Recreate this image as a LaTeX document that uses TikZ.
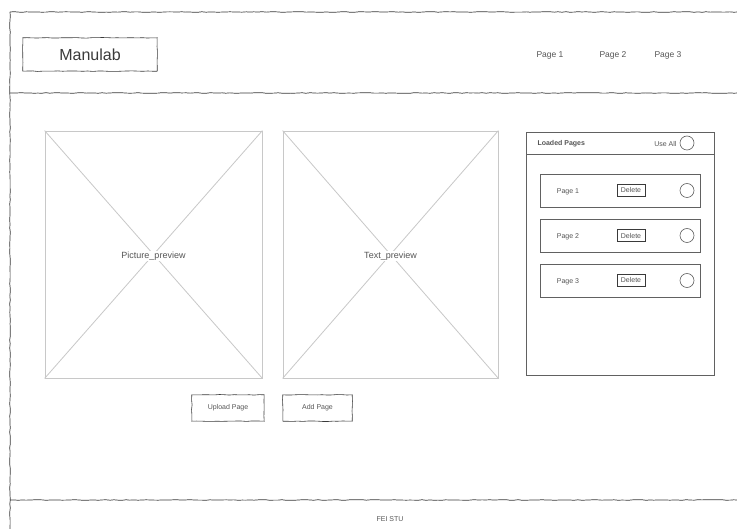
\documentclass[tikz,border=0pt]{standalone}
\usepackage{fontspec}
\setmainfont{Liberation Sans}
\usetikzlibrary{decorations.pathmorphing}
\definecolor{ink}{HTML}{3A3A3A}
\definecolor{soft}{HTML}{C8C8C8}
\definecolor{txt}{HTML}{555555}
\tikzset{
  sketch/.style={draw=ink, line width=0.7pt, decorate, decoration={random steps, segment length=4pt, amplitude=0.35pt}},
  sketchbox/.style={draw=ink, line width=0.6pt, decorate, decoration={random steps, segment length=5pt, amplitude=0.3pt}},
  plainbox/.style={draw=ink!80, line width=0.6pt, rectangle, inner sep=0pt},
  ph/.style={draw=soft, line width=0.8pt, rectangle, inner sep=0pt},
  small/.style={font=\fontsize{7}{8}\selectfont, text=txt},
  nav/.style={font=\fontsize{8.5}{10}\selectfont, text=txt},
  radio/.style={draw=ink!80, line width=0.6pt, circle, minimum size=14pt, inner sep=0pt},
}
\begin{document}
\begin{tikzpicture}[x=1pt,y=-1pt]
\useasboundingbox[fill=white] (0,0) rectangle (737,529);
% frame
\coordinate (tl) at (10,12); \coordinate (tr) at (737,12);
\coordinate (bl) at (10,529);
\coordinate (hl) at (10,93); \coordinate (hr) at (737,93);
\coordinate (fl) at (10,500); \coordinate (fr) at (737,500);
\draw[sketch] (tl) -- (tr);
\draw[sketch] (tl) -- (bl);
\draw[sketch] (hl) -- (hr);
\draw[sketch] (fl) -- (fr);
% header
\node[minimum width=134pt, minimum height=33pt, inner sep=0pt,
  font=\fontsize{16}{18}\selectfont, text=ink] (logo) at (90,54.5) {Manulab};
\draw[sketchbox] (logo.north west) rectangle (logo.south east);
\node[nav] (n1) at (550,55.5) {Page 1};
\node[nav] (n2) at (613,55.5) {Page 2};
\node[nav] (n3) at (668,55.5) {Page 3};
% previews
\node[ph, minimum width=217pt, minimum height=247pt] (pic) at (153.5,254.5) {};
\draw[soft, line width=0.8pt] (pic.north west) -- (pic.south east) (pic.north east) -- (pic.south west);
\node[font=\fontsize{9}{10}\selectfont, text=txt, fill=white, inner sep=0.5pt] (picl) at ([yshift=-1.5pt]pic.center) {Picture\_preview};
\node[ph, minimum width=215pt, minimum height=247pt] (txtb) at (390.5,254.5) {};
\draw[soft, line width=0.8pt] (txtb.north west) -- (txtb.south east) (txtb.north east) -- (txtb.south west);
\node[font=\fontsize{9}{10}\selectfont, text=txt, fill=white, inner sep=0.5pt] (txtl) at ([yshift=-1.5pt]txtb.center) {Text\_preview};
% buttons
\node[minimum width=72pt, minimum height=26pt, inner sep=0pt, small] (up) at (228,408) {Upload Page};
\draw[sketchbox] (up.north west) rectangle (up.south east);
\node[minimum width=69pt, minimum height=26pt, inner sep=0pt, small] (add) at (317.5,408) {Add Page};
\draw[sketchbox] (add.north west) rectangle (add.south east);
% loaded pages panel
\node[plainbox, minimum width=188pt, minimum height=243pt] (panel) at (620,253.5) {};
\coordinate (hsl) at (526,154); \coordinate (hsr) at (714,154);
\draw[ink!80, line width=0.6pt] (hsl) -- (hsr);
\node[small, anchor=west, font=\fontsize{7}{8}\bfseries\selectfont] (lp) at (534,144) {Loaded Pages};
\node[radio] (ua) at (687,143) {};
\node[small, anchor=east] (ual) at (680,144) {Use All};
\foreach \i/\y in {1/190.5, 2/235.5, 3/280.5} {
  \node[plainbox, minimum width=160pt, minimum height=33pt] (row\i) at (620,\y) {};
  \node[small] (rl\i) at (568,\y+1) {Page \i};
  \node[draw=ink, line width=0.6pt, minimum width=28pt, minimum height=12pt, inner sep=0pt, small] (del\i) at (631,\y) {Delete};
  \node[radio] (rc\i) at (687,\y) {};
}
% footer
\node[font=\fontsize{7}{8}\selectfont, text=txt] (foot) at (390,519) {FEI STU};
\end{tikzpicture}
\end{document}
